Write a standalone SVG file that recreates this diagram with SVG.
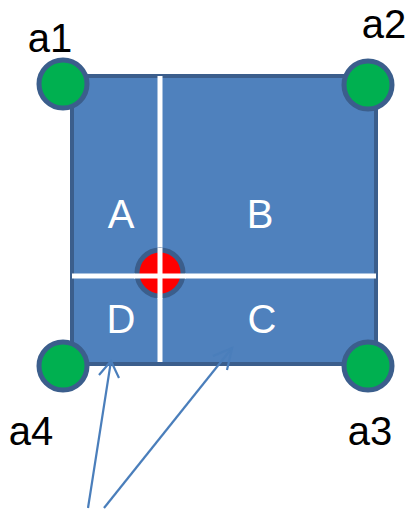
<svg xmlns="http://www.w3.org/2000/svg" width="411" height="512" viewBox="0 0 411 512">
<defs>
<style>
.lbl{font-family:"Liberation Sans",Arial,sans-serif;font-size:40px;text-anchor:middle;fill:#000}
.reg{font-family:"Liberation Sans",Arial,sans-serif;font-size:40px;text-anchor:middle;fill:#fff}
.corner{fill:#00b050;stroke:#3b5e8c;stroke-width:5}
.div{stroke:#fff;stroke-width:5}
.arrow{stroke:#4a7ebb;stroke-width:2.2;fill:none}
</style>
</defs>
<g id="square">
<rect x="72" y="76" width="304" height="288" fill="#4f81bd" stroke="#3b5e8c" stroke-width="4"/>
</g>
<g id="dividers">
<line class="div" x1="160" y1="76" x2="160" y2="362"/>
<line class="div" x1="72" y1="276" x2="376" y2="276"/>
</g>
<g id="center">
<circle cx="160" cy="273" r="23" fill="#ff0000" stroke="#3b5e8c" stroke-width="5"/>
<line class="div" x1="160" y1="248" x2="160" y2="299"/>
<line class="div" x1="134" y1="276" x2="186" y2="276"/>
</g>
<g id="regionA"><text class="reg" x="121" y="228">A</text></g>
<g id="regionB"><text class="reg" x="260" y="228">B</text></g>
<g id="regionC"><text class="reg" x="262" y="333">C</text></g>
<g id="regionD"><text class="reg" x="121" y="333">D</text></g>
<g id="a1"><circle class="corner" cx="63" cy="84" r="24"/><text class="lbl" x="50" y="52">a1</text></g>
<g id="a2"><circle class="corner" cx="368" cy="85" r="24"/><text class="lbl" x="384" y="38">a2</text></g>
<g id="a3"><circle class="corner" cx="368" cy="366" r="24"/><text class="lbl" x="370" y="445">a3</text></g>
<g id="a4"><circle class="corner" cx="63" cy="366" r="24"/><text class="lbl" x="31" y="445">a4</text></g>
<g id="connectors">
<line class="arrow" x1="88" y1="508" x2="111" y2="361"/>
<polyline class="arrow" points="99,375 111,361 119,378"/>
<line class="arrow" x1="104" y1="508" x2="232" y2="348"/>
<polyline class="arrow" points="213,356 232,348 227,370"/>
</g>
</svg>
